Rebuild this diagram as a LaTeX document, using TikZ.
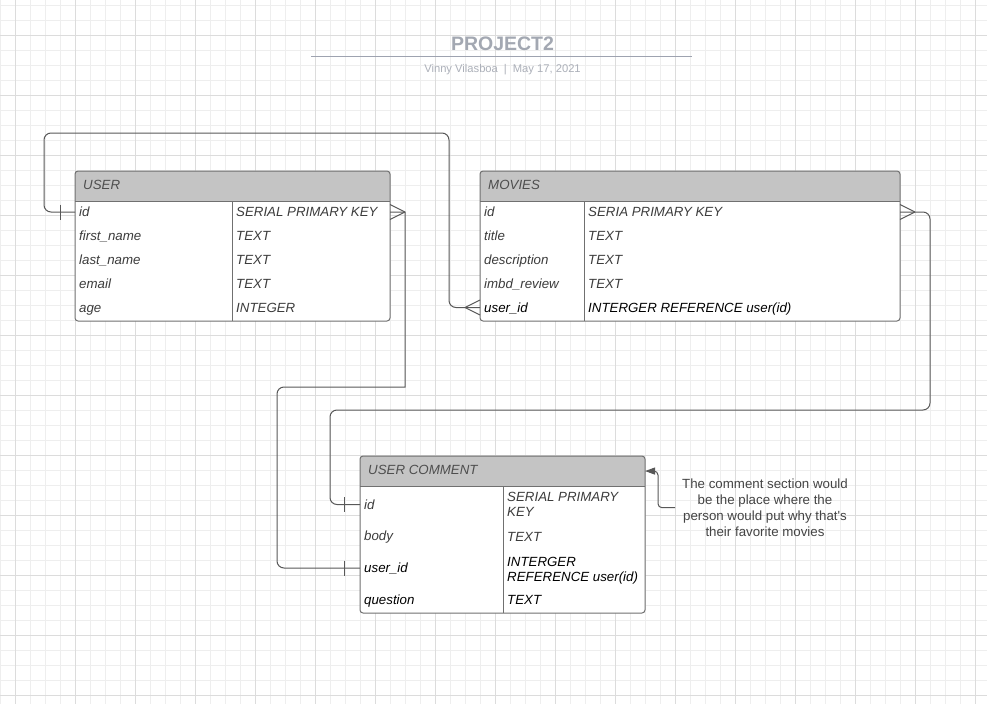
\documentclass[tikz,border=0pt]{standalone}
\usepackage{fontspec}
\setmainfont{Liberation Sans}
\usetikzlibrary{arrows.meta}

\definecolor{gridminor}{RGB}{238,238,238}
\definecolor{gridmajor}{RGB}{220,220,220}
\definecolor{edgegray}{RGB}{112,112,112}
\definecolor{headgray}{RGB}{196,196,196}
\definecolor{linegray}{RGB}{88,88,88}
\definecolor{fieldgray}{RGB}{60,60,60}
\definecolor{headtext}{RGB}{78,78,78}
\definecolor{notegray}{RGB}{68,68,68}
\definecolor{titlegray}{RGB}{163,168,178}
\definecolor{bylinegray}{RGB}{172,176,185}
\definecolor{rulegray}{RGB}{158,163,176}

\newcommand{\erfont}{\fontsize{13.3}{15}\selectfont}

\tikzstyle{gridline}=[draw=gridminor, line width=0.75pt]
\tikzstyle{gridbold}=[draw=gridmajor, line width=0.75pt]
\tikzstyle{entity}=[draw=edgegray, line width=1pt, fill=white, rounded corners=3pt, anchor=north west, inner sep=0pt, outer sep=0pt,
  path picture={\fill[headgray, sharp corners] ([yshift=2pt]path picture bounding box.north west) rectangle ([yshift=-30pt]path picture bounding box.north east);}]
\tikzstyle{tableline}=[draw=edgegray, line width=1pt]
\tikzstyle{entityhead}=[anchor=base west, inner sep=0pt, text height=9.5pt, text depth=3pt, text=headtext, font=\erfont\itshape]
\tikzstyle{field}=[anchor=base west, inner sep=0pt, text height=10pt, text depth=1pt, text=fieldgray, font=\erfont\itshape]
\tikzstyle{fieldlong}=[anchor=north west, inner sep=0pt, align=left, text=fieldgray, font=\erfont\itshape]
\tikzstyle{relation}=[draw=linegray, line width=1pt]
\tikzstyle{note}=[anchor=north, align=center, inner xsep=7pt, inner ysep=0pt, text=notegray, font=\fontsize{13.3}{16}\selectfont]
\tikzstyle{titletext}=[anchor=base, inner sep=0pt, text=titlegray, font=\bfseries\fontsize{19.5}{22}\selectfont]
\tikzstyle{byline}=[anchor=base, inner sep=0pt, text=bylinegray, font=\fontsize{11.2}{13}\selectfont]

\begin{document}
\begin{tikzpicture}[x=1pt, y=-1pt]
  \useasboundingbox (0,0) rectangle (987,704);
  \fill[white] (0,0) rectangle (987,704);

  % grid
  \foreach \gx in {0,15,...,975} \draw[gridline] (\gx,0) -- (\gx,704);
  \foreach \gy in {5,20,...,695} \draw[gridline] (0,\gy) -- (987,\gy);
  \foreach \gx in {15,75,...,975} \draw[gridbold] (\gx,0) -- (\gx,704);
  \foreach \gy in {35,95,...,695} \draw[gridbold] (0,\gy) -- (987,\gy);

  % title
  \node[titletext] (title) at (502.5,50) {PROJECT2};
  \draw[draw=rulegray, line width=1.3pt] (311,56.7) -- (692,56.7);
  \node[byline] (byline) at (502.5,72.5) {Vinny Vilasboa\hspace{6pt}|\hspace{6pt}May 17, 2021};

  % USER
  \node[entity, minimum width=315pt, minimum height=150pt] (user) at (75,171) {};
  \draw[tableline] ([yshift=-30pt]user.north west) -- ([yshift=-30pt]user.north east);
  \draw[tableline] (232,201) -- (232,321);
  \node[entityhead] (user-head) at (83,189.5) {USER};
  \node[field] (u-id) at (79,216.5) {id};
  \node[field] (u-first) at (79,240.5) {first\_name};
  \node[field] (u-last) at (79,264) {last\_name};
  \node[field] (u-email) at (79,288) {email};
  \node[field] (u-age) at (79,312) {age};
  \node[field] (u-id-type) at (236,216.5) {SERIAL PRIMARY KEY};
  \node[field] (u-first-type) at (236,240.5) {TEXT};
  \node[field] (u-last-type) at (236,264) {TEXT};
  \node[field] (u-email-type) at (236,288) {TEXT};
  \node[field] (u-age-type) at (236,312) {INTEGER};

  % MOVIES
  \node[entity, minimum width=420pt, minimum height=150pt] (movies) at (480,171) {};
  \draw[tableline] ([yshift=-30pt]movies.north west) -- ([yshift=-30pt]movies.north east);
  \draw[tableline] (584,201) -- (584,321);
  \node[entityhead] (movies-head) at (488,189.5) {MOVIES};
  \node[field] (m-id) at (484,216.5) {id};
  \node[field] (m-title) at (484,240.5) {title};
  \node[field] (m-desc) at (484,264) {description};
  \node[field] (m-review) at (484,288) {imbd\_review};
  \node[field, text=black] (m-uid) at (484,312) {user\_id};
  \node[field] (m-id-type) at (588,216.5) {SERIA PRIMARY KEY};
  \node[field] (m-title-type) at (588,240.5) {TEXT};
  \node[field] (m-desc-type) at (588,264) {TEXT};
  \node[field] (m-review-type) at (588,288) {TEXT};
  \node[field, text=black] (m-uid-type) at (588,312) {INTERGER REFERENCE user(id)};

  % USER COMMENT
  \node[entity, minimum width=285pt, minimum height=157pt] (uc) at (360,456) {};
  \draw[tableline] ([yshift=-30pt]uc.north west) -- ([yshift=-30pt]uc.north east);
  \draw[tableline] (503,486) -- (503,613);
  \node[entityhead] (uc-head) at (368,474.3) {USER COMMENT};
  \node[field] (c-id) at (364,509) {id};
  \node[field] (c-body) at (364,540.5) {body};
  \node[field, text=black] (c-uid) at (364,572.5) {user\_id};
  \node[field, text=black] (c-question) at (364,604) {question};
  \node[fieldlong] (c-id-type) at (507,492.2) {SERIAL PRIMARY\\KEY};
  \node[field] (c-body-type) at (507,541.5) {TEXT};
  \node[fieldlong, text=black] (c-uid-type) at (507,557.2) {INTERGER\\REFERENCE user(id)};
  \node[field, text=black] (c-question-type) at (507,604) {TEXT};

  % USER.id -- MOVIES.user_id
  \draw[relation, rounded corners=7pt] (user.west |- u-id) -| (44,133) -| (449,0 |- m-uid) -- (movies.west |- m-uid);
  \draw[relation] (user.west |- u-id) ++(-15,-7.5) -- ++(0,15);
  \draw[relation] (movies.west |- m-uid) ++(-15,0) -- ++(15,-7.5) ++(-15,7.5) -- ++(15,7.5);

  % USER.id -- USER COMMENT.user_id
  \draw[relation] (user.east |- u-id) -- (405,0 |- u-id) -- (405,387) [rounded corners=7pt] -| (277,0 |- c-uid) -- (uc.west |- c-uid);
  \draw[relation] (user.east |- u-id) ++(15,0) -- ++(-15,-7.5) ++(15,7.5) -- ++(-15,7.5);
  \draw[relation] (uc.west |- c-uid) ++(-16,-7.5) -- ++(0,15);

  % MOVIES.id -- USER COMMENT.id
  \draw[relation, rounded corners=7pt] (movies.east |- m-id) -| (930,410) -| (330,0 |- c-id) -- (uc.west |- c-id);
  \draw[relation] (movies.east |- m-id) ++(15,0) -- ++(-15,-7.5) ++(15,7.5) -- ++(-15,7.5);
  \draw[relation] (uc.west |- c-id) ++(-16,-7.5) -- ++(0,15);

  % note
  \node[note] (note) at (765,478.6) {The comment section would\\be the place where the\\person would put why that\textquotesingle s\\their favorite movies};
  \draw[relation, rounded corners=4pt, -{Triangle[length=10pt,width=7pt]}] (note.west) -| (658,0 |- uc-head) -- (uc.east |- uc-head);
\end{tikzpicture}
\end{document}
